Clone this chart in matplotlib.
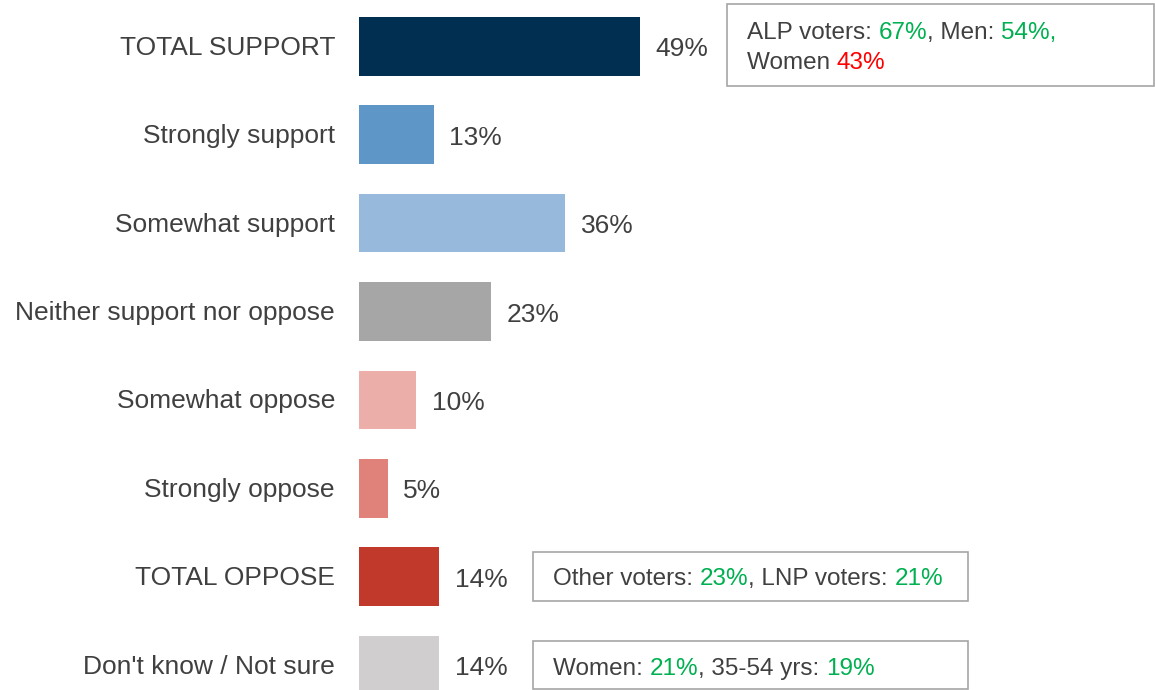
import matplotlib
matplotlib.use("Agg")
import matplotlib.pyplot as plt
from matplotlib.patches import Rectangle
from matplotlib.transforms import offset_copy

plt.rcParams['font.family'] = ['Liberation Sans', 'DejaVu Sans']

categories = ["TOTAL SUPPORT", "Strongly support", "Somewhat support",
              "Neither support nor oppose", "Somewhat oppose", "Strongly oppose",
              "TOTAL OPPOSE", "Don't know / Not sure"]
values = [49, 13, 36, 23, 10, 5, 14, 14]
colors = ["#002F52", "#5F96C8", "#96B9DC", "#A6A6A6",
          "#EBAEA8", "#E0827A", "#C0392B", "#D0CECE"]

GREY = "#404040"
GREEN = "#00B050"
RED = "#FF0000"

# callout box texts, as (piece, colour)
box_support = [("ALP voters: ", GREY), ("67%", GREEN), (", Men: ", GREY), ("54%,", GREEN)]
box_support2 = [("Women ", GREY), ("43%", RED)]
box_oppose = [("Other voters: ", GREY), ("23%", GREEN), (", LNP voters: ", GREY), ("21%", GREEN)]
box_unsure = [("Women: ", GREY), ("21%", GREEN), (", 35-54 yrs: ", GREY), ("19%", GREEN)]

W, H = 1155, 690
fig = plt.figure(figsize=(W / 100, H / 100), dpi=100)
ax = fig.add_axes([359 / W, 0, 1 - 359 / W, 1])
ax.axis("off")

px_per_unit = 5.735
row_px = 88.4
rows = list(range(len(categories)))
ax.barh(rows, values, height=0.664, color=colors)
ax.set_xlim(0, (W - 359) / px_per_unit)
ax.set_ylim((H - 46.3) / row_px, -46.3 / row_px)

LABEL_FS = 19
left_tr = offset_copy(ax.transData, fig, x=-24, y=0, units="dots")
for r, cat, v in zip(rows, categories, values):
    ax.text(0, r + 8.5 / row_px, cat, transform=left_tr, ha="right", va="baseline",
            fontsize=LABEL_FS, color=GREY)
    ax.text(v + 2.7, r + 10 / row_px, f"{v}%", ha="left", va="baseline",
            fontsize=LABEL_FS, color=GREY)


def fx(x):
    return x / W


def fy(y):
    return 1 - y / H


for (l, t, r, b) in [(727, 4, 1154, 86), (533, 552, 968, 601), (533, 641, 968, 689)]:
    fig.patches.append(Rectangle((fx(l), fy(b)), fx(r) - fx(l), fy(t) - fy(b),
                                 transform=fig.transFigure, fill=False,
                                 edgecolor="#A6A6A6", linewidth=1.2))

renderer = fig.canvas.get_renderer()
BOX_FS = 17.5


def text_width(s):
    t = fig.text(0, 0, s + "X", fontsize=BOX_FS)
    w1 = t.get_window_extent(renderer).width
    t.set_text("X")
    w2 = t.get_window_extent(renderer).width
    t.remove()
    return w1 - w2


def draw_pieces(pieces, x, baseline):
    prefix = ""
    for txt, col in pieces:
        off = text_width(prefix) if prefix else 0
        fig.text(fx(x + off), fy(baseline), txt, fontsize=BOX_FS, color=col,
                 ha="left", va="baseline")
        prefix += txt


draw_pieces(box_support, 747, 39)
draw_pieces(box_support2, 747, 69)
draw_pieces(box_oppose, 553, 585)
draw_pieces(box_unsure, 553, 675)

fig.savefig("out.png", dpi=100)
